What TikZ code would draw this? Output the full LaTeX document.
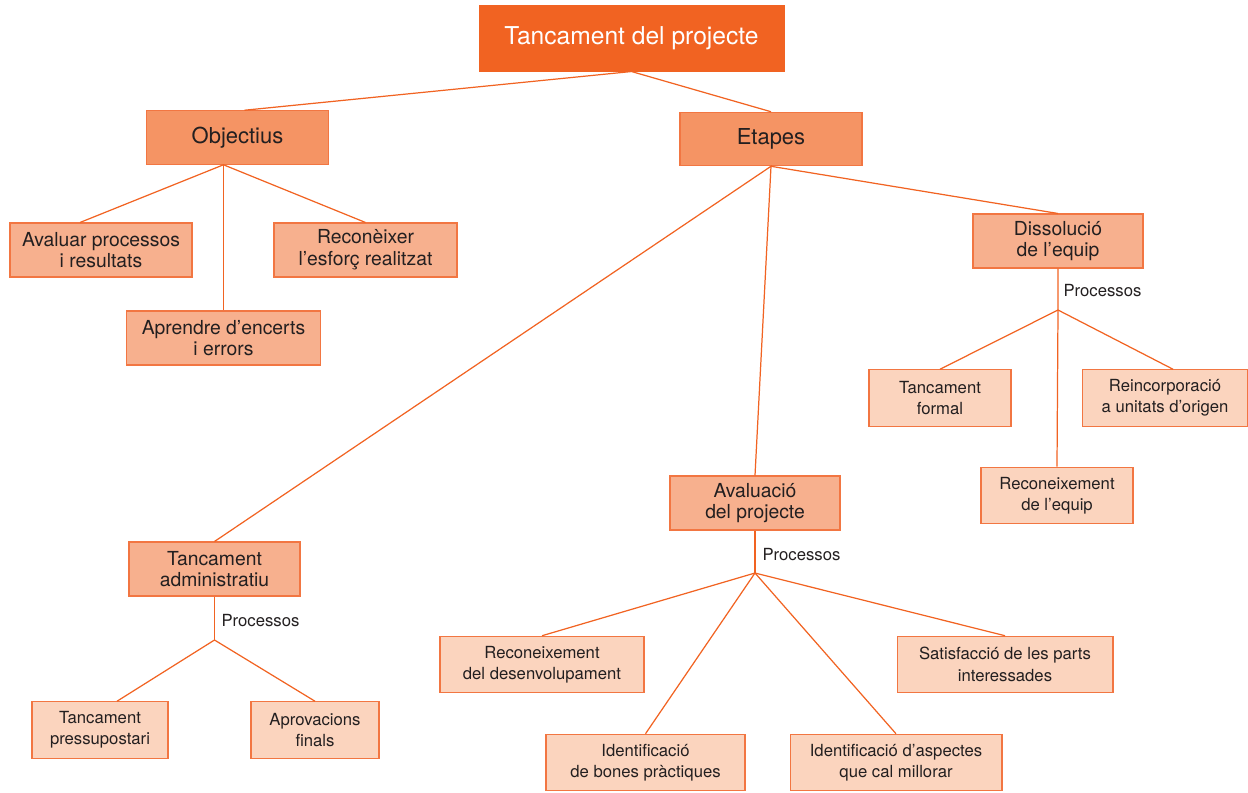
\documentclass[tikz,border=0pt]{standalone}
\usepackage{fontspec}
\setmainfont{TeX Gyre Heros}
\usepackage{tikz}
\usetikzlibrary{calc,positioning}
\definecolor{myorange}{RGB}{241,99,34}
\definecolor{mymid}{RGB}{245,148,100}
\definecolor{mylight}{RGB}{247,176,142}
\definecolor{mypale}{RGB}{251,212,190}
\definecolor{myedge}{RGB}{242,118,66}
\definecolor{mytext}{RGB}{35,31,32}
\tikzstyle{rootbox}=[draw=myorange,fill=myorange,text=white,rectangle,minimum width=6.1cm,minimum height=1.3cm,inner sep=0pt,font=\fontsize{14}{16}\selectfont]
\tikzstyle{goalbox}=[draw=myedge,fill=mymid,text=mytext,rectangle,minimum width=3.64cm,minimum height=1.07cm,inner sep=0pt,font=\fontsize{12.5}{14}\selectfont]
\tikzstyle{stagebox}=[draw=myedge,fill=mylight,text=mytext,rectangle,align=center,minimum height=1.08cm,inner sep=0pt,font=\fontsize{11}{12.4}\selectfont]
\tikzstyle{procbox}=[draw=myedge,fill=mypale,text=mytext,rectangle,align=center,minimum height=1.13cm,inner sep=0pt,font=\fontsize{9.5}{12.2}\selectfont]
\tikzstyle{proclabel}=[anchor=west,inner sep=0pt,text=mytext,font=\fontsize{9.5}{11}\selectfont]
\tikzstyle{link}=[draw=myorange,line width=0.7pt]

\begin{document}
\begin{tikzpicture}[x=0.02cm,y=-0.02cm,line width=0.6pt]
\useasboundingbox (0,0) rectangle (1248,792);
% top levels
\node [rootbox] (root) at (631.5,38.5) {Tancament del projecte};
\node [goalbox] (obj) at (237.5,137.5) {Objectius};
\node [goalbox] (etp) at (771,139) {Etapes};
% objectives
\node [stagebox, minimum width=3.64cm] (avl) at (101,250) {Avaluar processos\\i resultats};
\node [stagebox, minimum width=3.66cm] (rec) at (365.5,250) {Reconèixer\\l’esforç realitzat};
\node [stagebox, minimum width=3.88cm] (apr) at (223.5,338) {Aprendre d’encerts\\i errors};
% stages
\node [stagebox, minimum width=3.4cm] (dis) at (1058,241) {Dissolució\\de l’equip};
\node [stagebox, minimum width=3.4cm] (ava) at (755,503) {Avaluació\\del projecte};
\node [stagebox, minimum width=3.42cm] (tad) at (214.5,569) {Tancament\\administratiu};
% processes
\node [procbox, minimum width=2.84cm] (tfo) at (940,398) {Tancament\\formal};
\node [procbox, minimum width=3.3cm] (rei) at (1165,398) {Reincorporació\\a unitats d’origen};
\node [procbox, minimum width=3.04cm] (req) at (1057,495.5) {Reconeixement\\de l’equip};
\node [procbox, minimum width=4.08cm] (rde) at (542,664.5) {Reconeixement\\del desenvolupament};
\node [procbox, minimum width=4.32cm] (sat) at (1005,664.5) {Satisfacció de les parts\\interessades};
\node [procbox, minimum width=3.98cm] (ibp) at (645.5,762.5) {Identificació\\de bones pràctiques};
\node [procbox, minimum width=4.24cm] (iam) at (896,762.5) {Identificació d’aspectes\\que cal millorar};
\node [procbox, minimum width=2.72cm] (tpr) at (100,730) {Tancament\\pressupostari};
\node [procbox, minimum width=2.56cm] (apf) at (315,730) {Aprovacions\\finals};
% junctions
\coordinate (jobt) at ($(obj.north)+(7,0)$);
\coordinate (jobb) at ($(obj.south)+(-14,0)$);
\coordinate (jdis) at (1058,310);
\coordinate (java) at (755,573);
\coordinate (jtad) at (214.5,640);
\node [proclabel] (pdis) at (1063,291) {Processos};
\node [proclabel] (pava) at (762,555) {Processos};
\node [proclabel] (ptad) at (221,621) {Processos};
% connectors
\draw [link] (jobt) -- (root.south) -- (etp.north);
\draw [link] ($(avl.north)+(-21,0)$) -- (jobb) -- (rec.north);
\draw [link] (jobb) -- (apr.north);
\draw [link] (tad.north) -- (etp.south) -- (ava.north);
\draw [link] (etp.south) -- (dis.north);
\draw [link] (dis.south) -- (jdis) -- (req.north);
\draw [link] (tfo.north) -- (jdis) -- ($(rei.north)+(8,0)$);
\draw [link] (ava.south) -- (java);
\draw [link] (rde.north) -- (java) -- (sat.north);
\draw [link] (ibp.north) -- (java) -- (iam.north);
\draw [link] (tad.south) -- (jtad);
\draw [link] ($(tpr.north)+(17,0)$) -- (jtad) -- (apf.north);
\end{tikzpicture}
\end{document}
